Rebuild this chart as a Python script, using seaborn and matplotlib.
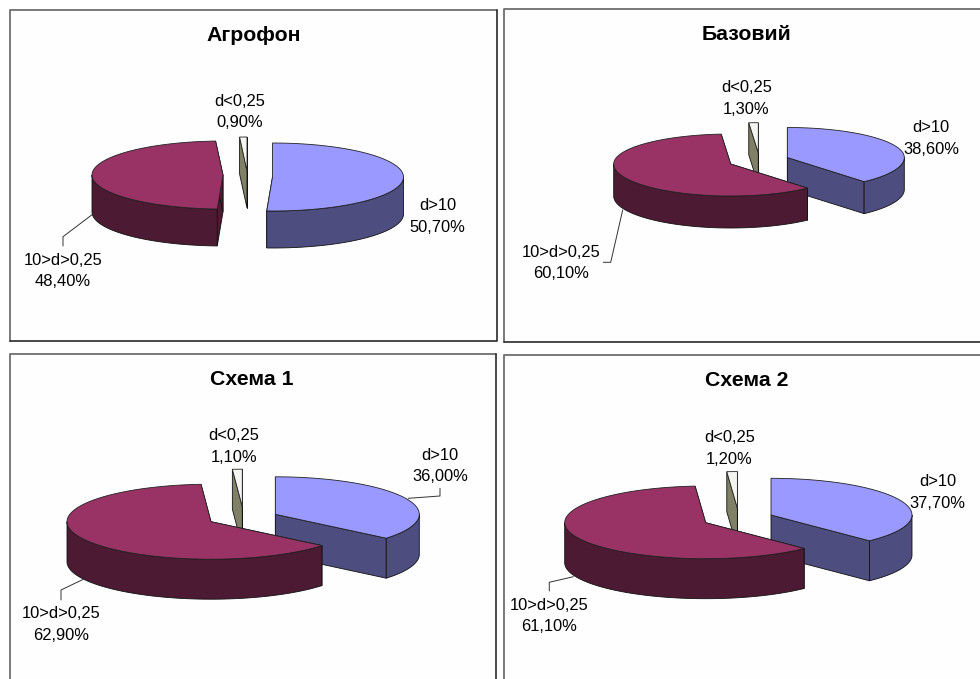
import numpy as np
import seaborn as sns
import matplotlib
matplotlib.use("Agg")
import matplotlib.pyplot as plt
from matplotlib.patches import Polygon, Rectangle

# Aggregate fractions by treatment, percent of sample mass
titles = ["Агрофон", "Базовий", "Схема 1", "Схема 2"]
fractions = ["d>10", "10>d>0,25", "d<0,25"]
agrofon = [50.7, 48.4, 0.9]
bazovyi = [38.6, 60.1, 1.3]
schema_1 = [36.0, 62.9, 1.1]
schema_2 = [37.7, 61.1, 1.2]
series = [agrofon, bazovyi, schema_1, schema_2]

sns.set_theme(style="white")
plt.rcParams["font.family"] = ["Liberation Sans", "DejaVu Sans"]

top_colors = sns.color_palette(["#9999FF", "#993366", "#F4F4F0"])
side_colors = sns.color_palette(["#4D4D80", "#4D1A33", "#808066"])

# Panel layout in figure pixels
panels = [
    dict(frame=(10, 10, 496.5, 340.7), centre=(248, 176), a=131, back=34, front=34, depth=37,
         shift=[(24.5, 1), (-25, -1), (-1, -5)], title=(253.5, 35.5),
         label_pos=[(437.7, 206), (63, 260.5), (239.4, 101)],
         leaders=[[(91.7, 215), (63, 236.7), (63, 246)]]),
    dict(frame=(503.5, 9, 990, 341.7), centre=(759, 160.7), a=117, back=30, front=32, depth=32,
         shift=[(28.3, -3.2), (-28.3, 3.3), (-0.7, -8)], title=(746.7, 34.5),
         label_pos=[(931, 128), (561, 252.5), (746.5, 88)],
         leaders=[[(622.7, 210), (610.7, 262.3), (603.3, 262.3)]]),
    dict(frame=(10, 354.3, 495.7, 690), centre=(243.2, 518), a=144, back=37.5, front=37.5, depth=40,
         shift=[(32.1, -3.7), (-32.2, 3.7), (-0.9, -11.3)], title=(251.7, 379.5),
         label_pos=[(440, 455), (61, 613.7), (234, 436)],
         leaders=[[(83.3, 579.3), (61, 590), (61, 600)],
                  [(408.3, 498.3), (440, 496), (440, 488.3)]]),
    dict(frame=(504.3, 355, 990, 690), centre=(738.4, 518.8), a=141, back=36.7, front=36, depth=40,
         shift=[(32.6, -3.8), (-32.7, 3.9), (-1, -10.5)], title=(746.7, 380),
         label_pos=[(937.7, 482), (549.3, 605.3), (729.3, 437.7)],
         leaders=[[(573.3, 576.7), (549.3, 582.3), (549.3, 591)]]),
]
LINE_STEP = 21.3

fig = plt.figure(figsize=(9.8, 6.79), dpi=100, facecolor="white")
ax = fig.add_axes([0, 0, 1, 1])
ax.set_xlim(0, 980)
ax.set_ylim(679, 0)
ax.axis("off")


def rim_point(cx, cy, theta, p):
    """Point on the tilted disc at a clockwise angle from twelve o'clock."""
    c = np.cos(theta)
    b = np.where(c > 0, p["back"], p["front"])
    return np.column_stack([cx + p["a"] * np.sin(theta), cy - b * c])


def draw_slice(cx, cy, start, end, top, side, p):
    depth = np.array([0, p["depth"]])
    arc = rim_point(cx, cy, np.linspace(start, end, 90), p)
    apex = np.array([cx, cy])

    # Radial walls go first so the rim and lid cover the hidden ones
    for edge in (arc[0], arc[-1]):
        wall = np.array([apex, edge, edge + depth, apex + depth])
        ax.add_patch(Polygon(wall, fc=side, ec="#111111", lw=0.6, zorder=2))

    # The outer wall shows only along the near half of the disc
    lo, hi = max(start, np.pi / 2), min(end, 3 * np.pi / 2)
    if hi > lo:
        near = rim_point(cx, cy, np.linspace(lo, hi, 90), p)
        wall = np.vstack([near, (near + depth)[::-1]])
        ax.add_patch(Polygon(wall, fc=side, ec="#111111", lw=0.6, zorder=2))

    ax.add_patch(Polygon(np.vstack([apex, arc]), fc=top, ec="#222222", lw=0.6, zorder=2))


for name, values, p in zip(titles, series, panels):
    x0, y0, x1, y1 = p["frame"]
    ax.add_patch(Rectangle((x0, y0), x1 - x0, y1 - y0, fc="#FDFEFD", ec="none", zorder=1))
    # Lighter upper-left edge, darker lower-right edge
    ax.plot([x0, x0, x1], [y1, y0, y0], color="#6E6E6E", lw=1.3, zorder=1.5)
    ax.plot([x0, x1, x1], [y1, y1, y0], color="#2A2A2A", lw=1.2, zorder=1.5)
    ax.text(*p["title"], name, ha="center", va="center", fontsize=15.3, fontweight="bold",
            color="black", zorder=5)

    bounds = np.concatenate([[0], np.cumsum(values)]) / np.sum(values) * 2 * np.pi
    # Back sliver first, the large front slice last so it overlaps its neighbours
    for k in (2, 0, 1):
        sx, sy = p["shift"][k]
        draw_slice(p["centre"][0] + sx, p["centre"][1] + sy, bounds[k], bounds[k + 1],
                   top_colors[k], side_colors[k], p)

    for label, value, (lx, ly) in zip(fractions, values, p["label_pos"]):
        text = f"{value:.2f}".replace(".", ",") + "%"
        ax.text(lx, ly, label, ha="center", va="center", fontsize=11.9, color="black", zorder=5)
        ax.text(lx, ly + LINE_STEP, text, ha="center", va="center", fontsize=11.9, color="black", zorder=5)

    for line in p["leaders"]:
        xs, ys = zip(*line)
        ax.plot(xs, ys, color="#333333", lw=0.7, zorder=4)

fig.savefig("out.png", dpi=100)
